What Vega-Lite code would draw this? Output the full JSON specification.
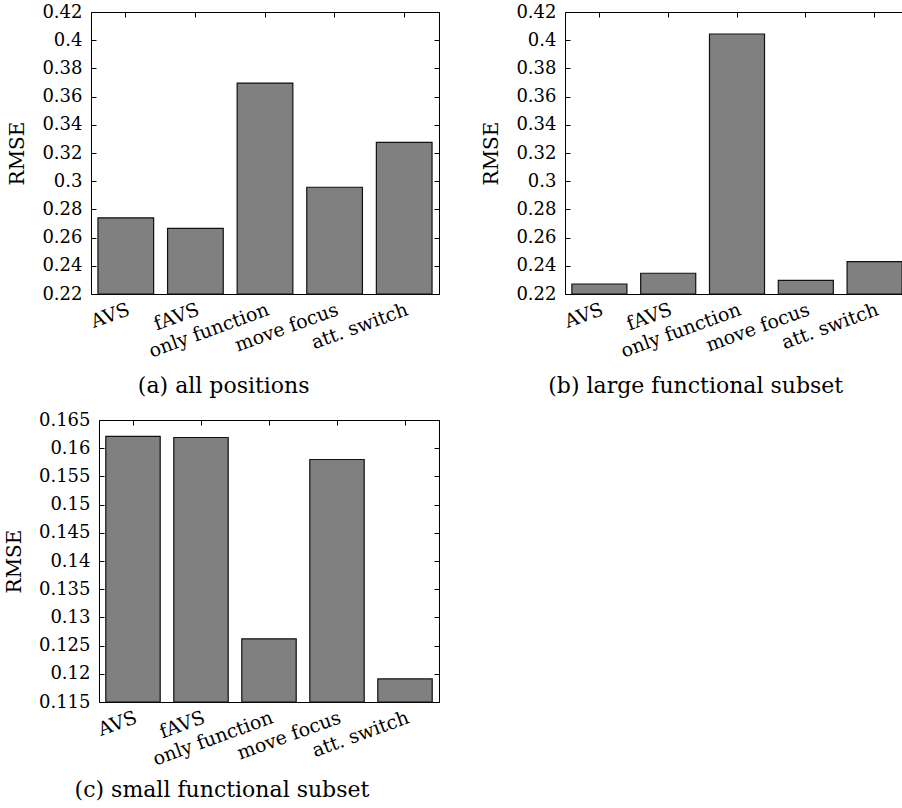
{
  "$schema": "https://vega.github.io/schema/vega-lite/v6.json",
  "padding": {"left": 3, "top": 2, "right": 0, "bottom": 0},
  "background": "#ffffff",
  "datasets": {
    "a": [
      {"method": "AVS", "rmse": 0.274},
      {"method": "fAVS", "rmse": 0.2666},
      {"method": "only function", "rmse": 0.3696},
      {"method": "move focus", "rmse": 0.2957},
      {"method": "att. switch", "rmse": 0.3276}
    ],
    "b": [
      {"method": "AVS", "rmse": 0.2271},
      {"method": "fAVS", "rmse": 0.2347},
      {"method": "only function", "rmse": 0.4044},
      {"method": "move focus", "rmse": 0.2297},
      {"method": "att. switch", "rmse": 0.2429}
    ],
    "c": [
      {"method": "AVS", "rmse": 0.1621},
      {"method": "fAVS", "rmse": 0.1619},
      {"method": "only function", "rmse": 0.1262},
      {"method": "move focus", "rmse": 0.158},
      {"method": "att. switch", "rmse": 0.1191}
    ]
  },
  "config": {
    "font": "DejaVu Serif",
    "view": {"stroke": "#000000", "strokeWidth": 1},
    "axis": {
      "labelFont": "DejaVu Serif",
      "titleFont": "DejaVu Serif",
      "labelFontSize": 18,
      "titleFontSize": 20,
      "titleFontWeight": "normal",
      "labelColor": "#000000",
      "titleColor": "#000000",
      "domain": false,
      "domainColor": "#000000",
      "domainWidth": 1,
      "grid": false,
      "tickColor": "#000000",
      "tickSize": -5,
      "tickWidth": 1,
      "labelOverlap": false
    },
    "title": {
      "font": "DejaVu Serif",
      "fontSize": 22,
      "fontWeight": "normal",
      "color": "#000000",
      "orient": "bottom",
      "anchor": "middle",
      "frame": "bounds",
      "offset": 15
    }
  },
  "columns": 2,
  "spacing": {"row": 12, "column": 41},
  "concat": [
    {
      "width": 348,
      "height": 282,
      "data": {"name": "a"},
      "title": {"text": "(a) all positions", "frame": "bounds"},
      "layer": [
        {
          "mark": {"type": "bar", "fill": "#808080", "stroke": "#111111", "strokeWidth": 1.2},
          "encoding": {
            "x": {"field": "method", "type": "nominal", "sort": null,
              "scale": {"paddingInner": 0.2, "paddingOuter": 0.1},
              "axis": {"orient": "bottom", "title": null, "labelFontSize": 19, "labelAngle": -20, "labelAlign": "right", "labelBaseline": "top", "ticks": false, "labelPadding": 6}},
            "y": {"field": "rmse", "type": "quantitative",
              "scale": {"domain": [0.22, 0.42], "nice": false, "zero": false},
              "axis": {"orient": "left", "title": "RMSE", "values": [0.22, 0.24, 0.26, 0.28, 0.3, 0.32, 0.34, 0.36, 0.38, 0.4, 0.42], "format": "~g", "labelPadding": 14, "titlePadding": 14}},
            "y2": {"datum": 0.22}
          }
        },
        {
          "mark": {"type": "tick", "opacity": 0},
          "encoding": {
            "x": {"field": "method", "type": "nominal", "sort": null,
              "axis": {"orient": "top", "title": null, "labels": false}},
            "y": {"field": "rmse", "type": "quantitative",
              "axis": {"orient": "right", "title": null, "labels": false, "values": [0.22, 0.24, 0.26, 0.28, 0.3, 0.32, 0.34, 0.36, 0.38, 0.4, 0.42]}}
          }
        }
      ],
      "resolve": {"axis": {"x": "independent", "y": "independent"}}
    },
    {
      "width": 344,
      "height": 282,
      "data": {"name": "b"},
      "title": {"text": "(b) large functional subset", "frame": "bounds"},
      "layer": [
        {
          "mark": {"type": "bar", "fill": "#808080", "stroke": "#111111", "strokeWidth": 1.2},
          "encoding": {
            "x": {"field": "method", "type": "nominal", "sort": null,
              "scale": {"paddingInner": 0.2, "paddingOuter": 0.1},
              "axis": {"orient": "bottom", "title": null, "labelFontSize": 19, "labelAngle": -20, "labelAlign": "right", "labelBaseline": "top", "ticks": false, "labelPadding": 6}},
            "y": {"field": "rmse", "type": "quantitative",
              "scale": {"domain": [0.22, 0.42], "nice": false, "zero": false},
              "axis": {"orient": "left", "title": "RMSE", "values": [0.22, 0.24, 0.26, 0.28, 0.3, 0.32, 0.34, 0.36, 0.38, 0.4, 0.42], "format": "~g", "labelPadding": 14, "titlePadding": 14}},
            "y2": {"datum": 0.22}
          }
        },
        {
          "mark": {"type": "tick", "opacity": 0},
          "encoding": {
            "x": {"field": "method", "type": "nominal", "sort": null,
              "axis": {"orient": "top", "title": null, "labels": false}},
            "y": {"field": "rmse", "type": "quantitative",
              "axis": {"orient": "right", "title": null, "labels": false, "values": [0.22, 0.24, 0.26, 0.28, 0.3, 0.32, 0.34, 0.36, 0.38, 0.4, 0.42]}}
          }
        }
      ],
      "resolve": {"axis": {"x": "independent", "y": "independent"}}
    },
    {
      "width": 348,
      "height": 282,
      "data": {"name": "c"},
      "view": {"stroke": "transparent"},
      "title": {"text": "(c) small functional subset", "frame": "bounds", "offset": 11},
      "layer": [
        {
          "mark": {"type": "bar", "fill": "#808080", "stroke": "#111111", "strokeWidth": 1.2},
          "encoding": {
            "x": {"field": "method", "type": "nominal", "sort": null,
              "scale": {"range": [8, 348], "paddingInner": 0.2, "paddingOuter": 0.1},
              "axis": {"orient": "bottom", "title": null, "domain": true, "labelFontSize": 19, "labelAngle": -20, "labelAlign": "right", "labelBaseline": "top", "ticks": false, "labelPadding": 6}},
            "y": {"field": "rmse", "type": "quantitative",
              "scale": {"domain": [0.115, 0.165], "nice": false, "zero": false},
              "axis": {"orient": "left", "title": "RMSE", "offset": -8, "domain": true, "values": [0.115, 0.12, 0.125, 0.13, 0.135, 0.14, 0.145, 0.15, 0.155, 0.16, 0.165], "format": "~g", "labelPadding": 14, "titlePadding": 14}},
            "y2": {"datum": 0.115}
          }
        },
        {
          "mark": {"type": "tick", "opacity": 0},
          "encoding": {
            "x": {"field": "method", "type": "nominal", "sort": null,
              "axis": {"orient": "top", "title": null, "labels": false, "domain": true}},
            "y": {"field": "rmse", "type": "quantitative",
              "axis": {"orient": "right", "title": null, "labels": false, "domain": true, "values": [0.115, 0.12, 0.125, 0.13, 0.135, 0.14, 0.145, 0.15, 0.155, 0.16, 0.165]}}
          }
        }
      ],
      "resolve": {"axis": {"x": "independent", "y": "independent"}}
    }
  ]
}
